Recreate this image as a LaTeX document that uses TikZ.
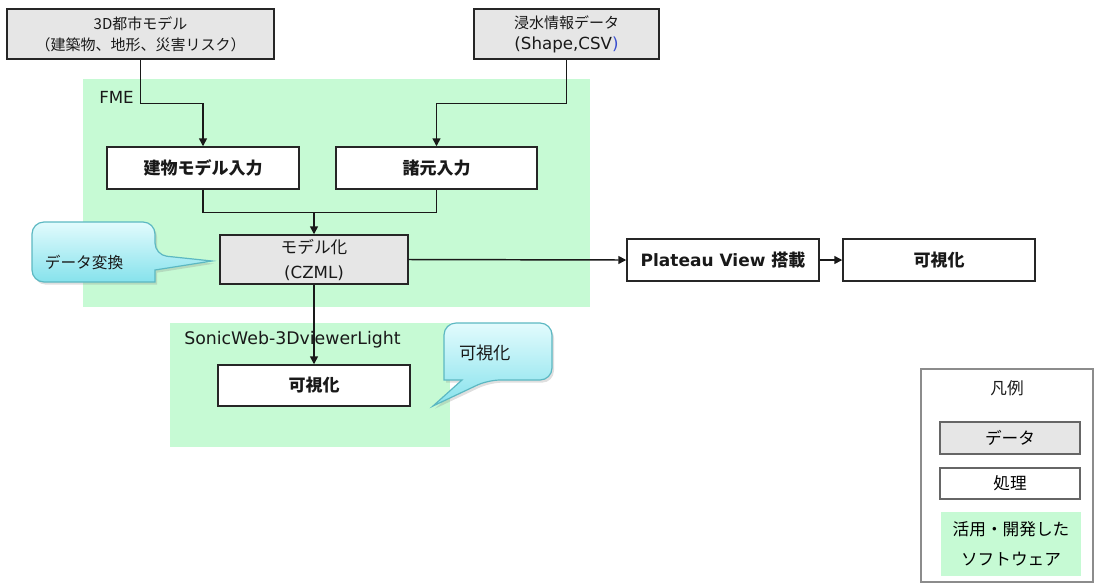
\documentclass[tikz,border=0pt]{standalone}
\usepackage{fontspec}
\setmainfont{DejaVu Sans}
\newfontfamily\jp{Noto Sans CJK JP}
\usetikzlibrary{arrows.meta,shadows}
\definecolor{fmegreen}{HTML}{C6FAD4}
\definecolor{datagray}{HTML}{E6E6E6}
\definecolor{calltop}{HTML}{E2FBFD}
\definecolor{callbot}{HTML}{86E2EC}
\definecolor{callline}{HTML}{5CB8C2}
\definecolor{parblue}{HTML}{3A4FD0}
\newcommand\mkbox[7]{\node[#1, minimum width={(#5-#3)*0.75pt}, minimum height={(#6-#4)*0.75pt}] (#2) at ({(#3+#5)/2},{(#4+#6)/2}) {#7};}
\begin{document}
\begin{tikzpicture}[x=0.75pt,y=-0.75pt,
  base/.style={draw=black!85, line width=1.1pt, inner sep=0pt, align=center, text=black!90},
  databox/.style={base, fill=datagray, font=\jp\fontsize{11.25}{15.75}\selectfont},
  procbox/.style={base, fill=white, font=\jp\bfseries\fontsize{12.75}{15}\selectfont},
  legbox/.style={draw=black!60, line width=0.8pt, inner sep=0pt, align=center, fill=white, font=\jp\fontsize{12.5}{15}\selectfont},
  leggreen/.style={fill=fmegreen, inner sep=0pt, align=center, font=\jp\fontsize{12.5}{22.5}\selectfont},
  conn/.style={line width=1.1pt, draw=black!90},
  arr/.style={conn, -{Triangle[length=6pt,width=6pt]}},
  area/.style={fill=fmegreen, draw=none},
  callout/.style={draw=callline, line width=0.9pt, top color=calltop, bottom color=callbot, drop shadow={opacity=0.25,shadow xshift=1.5pt,shadow yshift=-2pt}},
  lbl/.style={anchor=west, inner sep=0pt, text=black!90}
  ]
\useasboundingbox (0,0) rectangle (1094,583);
% software areas
\fill[area] (83,79) rectangle (590,307);
\fill[area] (170,323) rectangle (450,447);
\node[lbl, font=\fontsize{12.5}{15}\selectfont] (fme) at (99,97) {FME};
\node[lbl, font=\fontsize{13}{15}\selectfont] (sw) at (184,340) {SonicWeb-3DviewerLight};
% boxes
\mkbox{databox}{city}{7}{9}{274}{59}{3D都市モデル\\（建築物、地形、災害リスク）}
\mkbox{databox}{flood}{474}{9}{659}{59}{浸水情報データ\\{\rmfamily\fontsize{12.5}{15.75}\selectfont (Shape,CSV\textcolor{parblue}{)}}}
\mkbox{procbox}{bldg}{107}{147}{299}{189}{建物モデル入力}
\mkbox{procbox}{spec}{336}{147}{537}{189}{諸元入力}
\mkbox{databox, font=\jp\fontsize{12.5}{18.75}\selectfont}{model}{220}{235}{408}{284}{モデル化\\{\rmfamily (CZML)}}
\mkbox{procbox}{plat}{627}{239}{819}{281}{{\rmfamily Plateau View }搭載}
\mkbox{procbox}{vis1}{843}{239}{1035}{281}{可視化}
\mkbox{procbox}{vis2}{218}{365}{410}{406}{可視化}
% connectors
\draw[arr] (city.south) -- ++(0,44) -| (bldg.north);
\draw[arr] (flood.south) -- ++(0,44) -| (spec.north);
\draw[conn] (bldg.south) -- ++(0,23) -| (spec.south);
\coordinate (join) at (model.north |- 0,212);
\draw[arr] (join) -- (model.north);
\draw[arr] (model.east) -- (plat.west);
\draw[arr] (plat.east) -- (vis1.west);
\draw[arr] (model.south) -- (vis2.north);
% callouts
\draw[callout] (32,250) [rounded corners=9] -- (32,222) -- (155,222) -- (155,255) [sharp corners] -- (212,261) -- (155,270) -- (155,282) [rounded corners=9] -- (32,282) -- cycle;
\node[font=\jp\fontsize{11.75}{14}\selectfont, text=black!90] (cv1) at (84,262) {データ変換};
\draw[callout] (498,323) [rounded corners=9] -- (552,323) -- (552,380) -- (488,380) [sharp corners] -- (433,406) -- (462,380) -- (444,380) [rounded corners=9] -- (444,323) -- cycle;
\node[font=\jp\fontsize{13}{15}\selectfont, text=black!90] (cv2) at (485,353) {可視化};
% legend
\draw[draw=black!45, line width=0.8pt] (921,369) rectangle (1093,582);
\node[font=\jp\fontsize{12.5}{15}\selectfont, text=black!90] (lgt) at (1007,388) {凡例};
\mkbox{legbox, fill=datagray}{lgd}{940}{422}{1080}{454}{データ}
\mkbox{legbox}{lgp}{940}{468}{1080}{499}{処理}
\mkbox{leggreen}{lgs}{941}{512}{1081}{576}{活用・開発した\\ソフトウェア}
\end{tikzpicture}
\end{document}
